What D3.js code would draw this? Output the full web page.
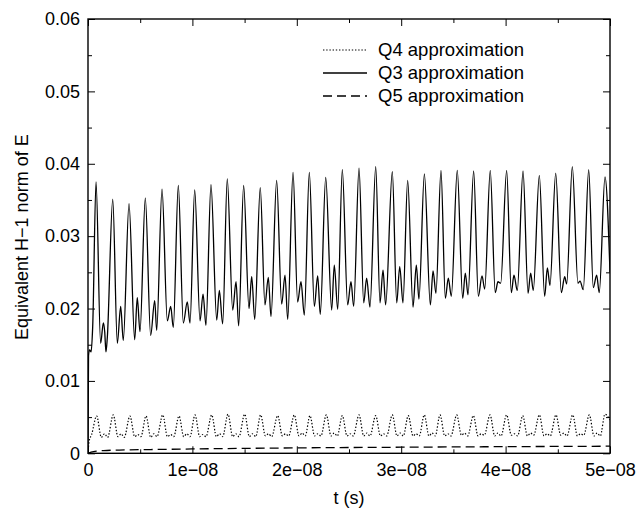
<!DOCTYPE html>
<html>
<head>
<meta charset="utf-8">
<script src="https://cdn.jsdelivr.net/npm/d3@7"></script>
<style>
  body { margin: 0; background: #fff; }
  text { font-family: "Liberation Sans", Arial, Helvetica, sans-serif; }
</style>
</head>
<body>
<div id="viz"></div>
<script>
const width = 637;
const height = 516;
const margin = {top: 19, right: 27, bottom: 62.7, left: 88};

// time in ns, value in units of 1e-3
const q3Points = [
  [0,0],[0.05,13.5],[0.15,14.3],[0.3,14.0],[0.45,17.5],
  [0.77,37.5],[1.21,15.2],[1.47,18.0],[1.60,16.8],[1.72,14.0],[1.85,16.0],
  [2.37,35.1],[2.81,15.2],[3.13,20.3],[3.38,15.6],
  [3.93,34.5],[4.47,15.7],[4.72,21.5],[4.98,16.8],
  [5.49,35.3],[6.00,16.3],[6.39,21.1],[6.58,17.0],
  [7.09,36.5],[7.60,18.3],[7.92,20.3],[8.17,17.4],
  [8.65,37.0],[9.13,18.0],[9.51,20.9],[9.77,18.0],
  [10.22,36.4],[10.73,18.3],[11.02,22.0],[11.30,17.7],
  [11.78,37.1],[12.33,18.4],[12.58,22.5],[12.90,17.9],
  [13.34,37.9],[13.86,19.8],[14.18,23.7],[14.43,17.6],
  [14.91,37.0],[15.42,20.0],[15.68,24.4],[15.97,18.5],
  [16.50,36.7],[16.95,20.5],[17.27,24.3],[17.53,18.9],
  [18.07,37.7],[18.55,20.6],[18.87,24.6],[19.13,18.5],
  [19.64,38.8],[20.08,20.9],[20.40,23.7],[20.72,19.1],
  [21.20,38.8],[21.68,20.3],[22.00,24.5],[22.25,19.2],
  [22.77,38.1],[23.34,19.8],[23.59,26.0],[23.92,19.9],
  [24.36,39.2],[24.87,20.5],[25.19,23.7],[25.45,20.3],
  [25.96,39.4],[26.41,20.8],[26.69,24.2],[27.01,20.2],
  [27.56,39.6],[27.97,20.8],[28.26,25.3],[28.51,20.5],
  [29.15,38.9],[29.57,20.8],[29.86,25.8],[30.17,20.8],
  [30.62,37.7],[31.13,20.2],[31.45,26.0],[31.70,21.3],
  [32.22,38.6],[32.79,20.5],[33.05,25.2],[33.33,22.1],
  [33.81,39.1],[34.23,21.4],[34.51,24.2],[34.80,21.7],
  [35.37,39.1],[35.89,21.4],[36.14,24.9],[36.40,21.9],
  [36.94,39.0],[37.39,21.7],[37.74,24.5],[38.00,22.7],
  [38.53,39.1],[39.01,22.2],[39.27,23.7],[39.53,23.5],
  [40.10,39.1],[40.55,22.2],[40.80,24.6],[41.12,22.5],
  [41.67,39.0],[42.15,22.1],[42.40,24.9],[42.65,22.5],
  [43.23,38.4],[43.74,21.7],[44.00,25.6],[44.25,23.2],
  [44.80,38.7],[45.34,22.2],[45.66,24.4],[45.85,23.4],
  [46.39,39.6],[46.93,23.5],[47.13,23.8],[47.44,22.6],
  [47.96,39.2],[48.40,22.9],[48.72,24.6],[48.97,22.2],
  [49.52,38.2],[50.0,25.0]
];

const q4Points = [
  [0,0],[0.1,1.6],[0.35,2.6],
  [0.83,5.15],[1.28,2.2],[1.58,2.7],[1.88,2.2],
  [2.42,5.3],[2.87,2.3],[3.17,2.7],[3.47,2.2],
  [4.02,5.15],[4.47,2.3],[4.77,2.6],[5.07,2.3],
  [5.56,5.15],[6.01,2.2],[6.31,2.7],[6.61,2.3],
  [7.16,5.3],[7.61,2.3],[7.91,2.6],[8.21,2.3],
  [8.72,5.15],[9.17,2.3],[9.47,2.7],[9.77,2.3],
  [10.25,5.3],[10.70,2.3],[11.00,2.6],[11.30,2.3],
  [11.85,5.3],[12.30,2.3],[12.60,2.7],[12.90,2.3],
  [13.41,5.4],[13.86,2.3],[14.16,2.7],[14.46,2.3],
  [15.01,5.4],[15.46,2.3],[15.76,2.7],[16.06,2.3],
  [16.54,5.3],[16.99,2.4],[17.29,2.7],[17.59,2.3],
  [18.17,5.2],[18.62,2.4],[18.92,2.7],[19.22,2.4],
  [19.76,5.3],[20.21,2.4],[20.51,2.8],[20.81,2.4],
  [21.26,5.2],[21.71,2.4],[22.01,2.7],[22.31,2.4],
  [22.83,5.3],[23.28,2.4],[23.58,2.8],[23.88,2.4],
  [24.36,5.2],[24.81,2.4],[25.11,2.7],[25.41,2.4],
  [25.96,5.3],[26.41,2.4],[26.71,2.8],[27.01,2.4],
  [27.56,5.2],[28.01,2.4],[28.31,2.7],[28.61,2.4],
  [29.15,5.3],[29.60,2.4],[29.90,2.8],[30.20,2.4],
  [30.68,5.2],[31.13,2.4],[31.43,2.7],[31.73,2.4],
  [32.21,5.3],[32.66,2.4],[32.96,2.8],[33.26,2.4],
  [33.72,5.3],[34.17,2.4],[34.47,2.7],[34.77,2.4],
  [35.32,5.3],[35.77,2.5],[36.07,2.8],[36.37,2.4],
  [36.91,5.2],[37.36,2.4],[37.66,2.7],[37.96,2.5],
  [38.51,5.3],[38.96,2.4],[39.26,2.8],[39.56,2.4],
  [40.10,5.3],[40.55,2.5],[40.85,2.7],[41.15,2.4],
  [41.64,5.2],[42.09,2.4],[42.39,2.8],[42.69,2.5],
  [43.23,5.3],[43.68,2.4],[43.98,2.7],[44.28,2.4],
  [44.83,5.3],[45.28,2.5],[45.58,2.8],[45.88,2.4],
  [46.43,5.3],[46.88,2.4],[47.18,2.7],[47.48,2.5],
  [48.02,5.3],[48.47,2.4],[48.77,2.8],[49.07,2.4],
  [49.52,5.4],[50.0,4.6]
];

const q5Points = [
  [0,0],[0.3,0.15],[0.8,0.3],[1.5,0.38],[3,0.45],[6,0.52],[10,0.6],
  [15,0.68],[20,0.75],[25,0.8],[30,0.84],[35,0.88],[40,0.92],[45,0.95],[50,0.98]
];

const xTickValues = [0, 1e-8, 2e-8, 3e-8, 4e-8, 5e-8];
const xTickLabels = ['0', '1e\u221208', '2e\u221208', '3e\u221208', '4e\u221208', '5e\u221208'];
const xMinorTicks = [0.5e-8, 1.5e-8, 2.5e-8, 3.5e-8, 4.5e-8];
const yTickValues = [0, 0.01, 0.02, 0.03, 0.04, 0.05, 0.06];
const yTickLabels = ['0', '0.01', '0.02', '0.03', '0.04', '0.05', '0.06'];
const yMinorTicks = [0.005, 0.015, 0.025, 0.035, 0.045, 0.055];

const series = [
  { name: 'Q4 approximation', points: q4Points, dash: '1.4,1.8', width: 1.2 },
  { name: 'Q3 approximation', points: q3Points, dash: null, width: 1.3 },
  { name: 'Q5 approximation', points: q5Points, dash: '9,5', width: 1.3 },
];

const xScale = d3.scaleLinear()
  .domain([0, 5e-8])
  .range([margin.left, width - margin.right]);
const yScale = d3.scaleLinear()
  .domain([0, 0.06])
  .range([height - margin.bottom, margin.top]);

const svg = d3.select('#viz')
  .append('svg')
    .attr('width', width)
    .attr('height', height)
    .attr('viewBox', [0, 0, width, height]);

svg.append('rect').attr('width', width).attr('height', height).attr('fill', '#fff');

svg.append('clipPath').attr('id', 'plot-clip')
  .append('rect')
    .attr('x', margin.left).attr('y', margin.top)
    .attr('width', width - margin.left - margin.right)
    .attr('height', height - margin.top - margin.bottom);

const line = d3.line()
  .x(d => xScale(d[0] * 1e-9))
  .y(d => yScale(d[1] * 1e-3))
  .curve(d3.curveMonotoneX);

svg.append('g')
    .attr('clip-path', 'url(#plot-clip)')
  .selectAll('path')
  .data(series)
  .join('path')
    .attr('d', d => line(d.points))
    .attr('fill', 'none')
    .attr('stroke', '#000')
    .attr('stroke-width', d => d.width)
    .attr('stroke-dasharray', d => d.dash);

// axes, ticks point inward, mirrored on top and right
const fontSize = 18;
const styleAxis = g => {
  g.select('.domain').remove();
  g.selectAll('line').attr('stroke', '#000').attr('stroke-width', 1);
  g.selectAll('text').attr('fill', '#000').style('font-size', fontSize + 'px')
    .style('font-family', '"Liberation Sans", Arial, sans-serif');
};
const plotBottom = height - margin.bottom;
const plotRight = width - margin.right;

svg.append('g')
  .attr('transform', `translate(0,${plotBottom})`)
  .call(d3.axisBottom(xScale).tickValues(xTickValues).tickSize(-7).tickPadding(10)
    .tickFormat((d, i) => xTickLabels[i]))
  .call(styleAxis);
svg.append('g')
  .attr('transform', `translate(0,${plotBottom})`)
  .call(d3.axisBottom(xScale).tickValues(xMinorTicks).tickSize(-4).tickFormat(''))
  .call(styleAxis);
svg.append('g')
  .attr('transform', `translate(0,${margin.top})`)
  .call(d3.axisTop(xScale).tickValues(xTickValues).tickSize(-7).tickFormat(''))
  .call(styleAxis);
svg.append('g')
  .attr('transform', `translate(0,${margin.top})`)
  .call(d3.axisTop(xScale).tickValues(xMinorTicks).tickSize(-4).tickFormat(''))
  .call(styleAxis);

svg.append('g')
  .attr('transform', `translate(${margin.left},0)`)
  .call(d3.axisLeft(yScale).tickValues(yTickValues).tickSize(-7).tickPadding(8)
    .tickFormat((d, i) => yTickLabels[i]))
  .call(styleAxis);
svg.append('g')
  .attr('transform', `translate(${margin.left},0)`)
  .call(d3.axisLeft(yScale).tickValues(yMinorTicks).tickSize(-4).tickFormat(''))
  .call(styleAxis);
svg.append('g')
  .attr('transform', `translate(${plotRight},0)`)
  .call(d3.axisRight(yScale).tickValues(yTickValues).tickSize(-7).tickFormat(''))
  .call(styleAxis);
svg.append('g')
  .attr('transform', `translate(${plotRight},0)`)
  .call(d3.axisRight(yScale).tickValues(yMinorTicks).tickSize(-4).tickFormat(''))
  .call(styleAxis);

// frame
svg.append('rect')
  .attr('x', margin.left).attr('y', margin.top)
  .attr('width', plotRight - margin.left)
  .attr('height', plotBottom - margin.top)
  .attr('fill', 'none')
  .attr('stroke', '#000')
  .attr('stroke-width', 1.4);

// axis titles
svg.append('text')
  .attr('x', (margin.left + plotRight) / 2)
  .attr('y', 504)
  .attr('text-anchor', 'middle')
  .style('font-size', fontSize + 'px')
  .text('t (s)');

svg.append('text')
  .attr('transform', `translate(28,${(margin.top + plotBottom) / 2 + 1}) rotate(-90)`)
  .attr('text-anchor', 'middle')
  .style('font-size', fontSize + 'px')
  .text('Equivalent H\u22121 norm of E');

// legend
const legend = svg.append('g')
  .selectAll('g')
  .data(series)
  .join('g')
    .attr('transform', (d, i) => `translate(0,${50 + i * 23})`);
legend.append('line')
  .attr('x1', 323).attr('x2', 367)
  .attr('stroke', '#000')
  .attr('stroke-width', d => d.width)
  .attr('stroke-dasharray', d => d.dash);
legend.append('text')
  .attr('x', 378)
  .attr('dy', '0.35em')
  .style('font-size', '18.5px')
  .text(d => d.name);
</script>
</body>
</html>
